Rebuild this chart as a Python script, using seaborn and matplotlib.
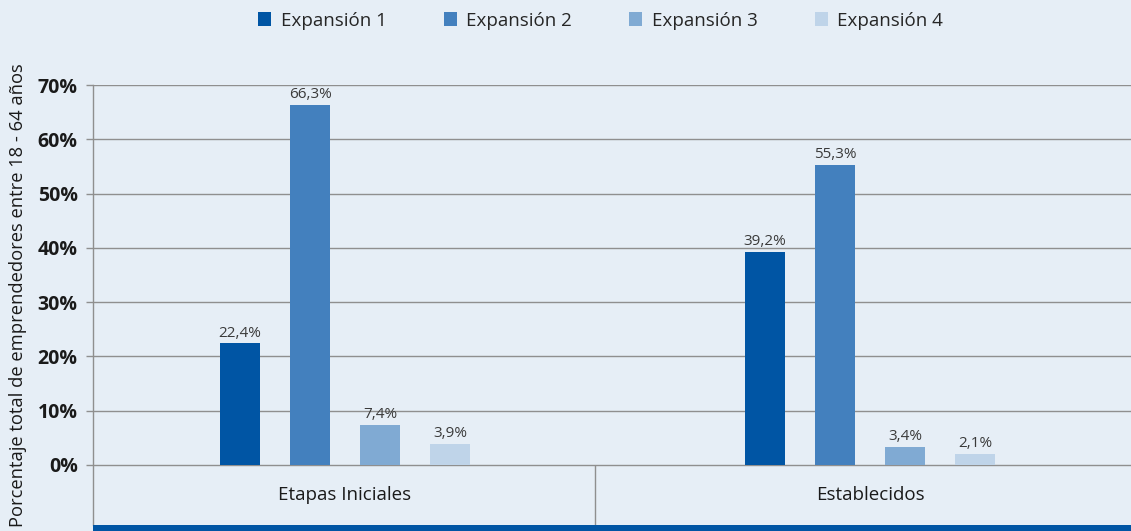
import numpy as np
import pandas as pd
import matplotlib
matplotlib.use("Agg")
import matplotlib.pyplot as plt
from matplotlib.patches import Rectangle
import seaborn as sns

# ── Data ──
CATEGORIES = ["Etapas Iniciales", "Establecidos"]
SERIES     = ["Expansión 1", "Expansión 2", "Expansión 3", "Expansión 4"]
VALUES = {
    "Expansión 1": [22.4, 39.2],
    "Expansión 2": [66.3, 55.3],
    "Expansión 3": [7.4, 3.4],
    "Expansión 4": [3.9, 2.1],
}
Y_TICKS  = [0, 10, 20, 30, 40, 50, 60, 70]
Y_LABEL  = "Porcentaje total de emprendedores entre 18 - 64 años"
COLORS   = ["#0055A4", "#4380BE", "#80AAD3", "#BFD4E9"]

BG   = "#E6EEF6"
GRID = "#8F8F8F"

df = pd.DataFrame(
    [{"cat": c, "serie": s, "valor": VALUES[s][i]}
     for s in SERIES for i, c in enumerate(CATEGORIES)]
)

sns.set_theme(style="white")
plt.rcParams["font.family"] = ["Open Sans", "DejaVu Sans"]

W, H = 1131, 531
fig = plt.figure(figsize=(W / 100, H / 100), dpi=100, facecolor=BG)

# axes geometry in pixels
left_px, right_px, top_px, bot_px = 93, 1131, 85, 525
ax = fig.add_axes([left_px / W, (H - bot_px) / H,
                   (right_px - left_px) / W, (bot_px - top_px) / H])
ax.set_facecolor(BG)

sns.barplot(data=df, x="cat", y="valor", hue="serie", order=CATEGORIES,
            hue_order=SERIES, palette=COLORS, width=0.533, gap=0.43,
            saturation=1, linewidth=0, ax=ax, legend=True)

# value labels
for cont, s in zip(ax.containers, SERIES):
    ax.bar_label(cont, labels=[f"{v:.1f}%".replace(".", ",") for v in VALUES[s]],
                 padding=2, fontsize=11, color="#3a3a3a")

y0 = -60 / ((465 - 85) / 70)
ax.set_ylim(y0, 70)
ax.set_xlim(-0.48, 1.497)

ax.set_yticks(Y_TICKS)
ax.set_yticklabels([f"{t}%" for t in Y_TICKS], fontsize=14, fontweight="bold",
                   color="#1a1a1a")
ax.tick_params(axis="y", length=5, color=GRID, width=1, pad=6, left=True)
ax.tick_params(axis="x", length=0, labelbottom=False)
ax.set_xlabel("")

for t in Y_TICKS:
    ax.axhline(t, color=GRID, lw=1, zorder=0)
ax.vlines(0.476, y0, 0, color=GRID, lw=1)

for sp in ["top", "right", "bottom"]:
    ax.spines[sp].set_visible(False)
ax.spines["left"].set_color(GRID)
ax.spines["left"].set_linewidth(1)

for i, c in enumerate(CATEGORIES):
    ax.text(i, y0 / 2, c, ha="center", va="center", fontsize=13.5, color="#1a1a1a")

ax.set_ylabel(Y_LABEL, fontsize=13.2, color="#1a1a1a")
ax.yaxis.set_label_coords(-0.064, 0.523)

# legend at the top
handles, labels = ax.get_legend_handles_labels()
ax.get_legend().remove()
fig.legend(handles, labels, loc="upper center", bbox_to_anchor=(0.531, 1.01),
           ncol=4, frameon=False, fontsize=13.5, handlelength=0.7,
           handleheight=0.7, handletextpad=0.5, columnspacing=3.05)

# dark band at the bottom
fig.add_artist(Rectangle((left_px / W, 0), (right_px - left_px) / W, 6 / H,
                         transform=fig.transFigure, color="#0055A4", lw=0))

fig.savefig("out.png", dpi=100, facecolor=BG)
